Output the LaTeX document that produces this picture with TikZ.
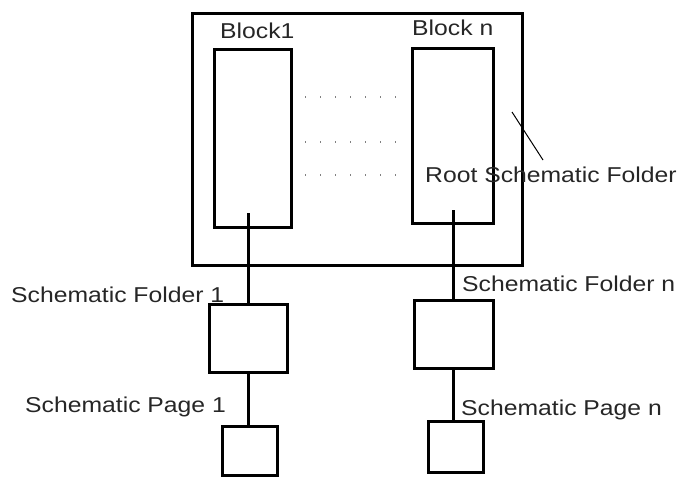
\documentclass[tikz,border=0pt]{standalone}
\usepackage{fontspec}
\setmainfont[FakeStretch=1.15]{Liberation Sans}
\begin{document}
\begin{tikzpicture}[x=1pt,y=-1pt,
  box/.style={draw,line width=3pt,inner sep=0pt,outer sep=0pt},
  link/.style={line width=3pt},
  lbl/.style={anchor=base west,inner sep=0pt,font=\fontsize{21.5}{24}\selectfont,text=black!85},
  dotrow/.style={gray,line width=1.1pt,dash pattern=on 1pt off 14pt}]
\useasboundingbox (0,0) rectangle (681,477);

% root folder and its blocks
\node[box,minimum width=330,minimum height=252] (root) at (357,139) {};
\node[box,minimum width=77,minimum height=178] (b1) at (252.5,138) {};
\node[box,minimum width=81,minimum height=175] (bn) at (452.5,135.5) {};

% folders and pages
\node[box,minimum width=78,minimum height=68] (f1) at (248,338) {};
\node[box,minimum width=55,minimum height=49] (p1) at (249.5,450.5) {};
\node[box,minimum width=79,minimum height=68] (fn) at (453.5,334) {};
\node[box,minimum width=55,minimum height=51] (pn) at (455.5,446.5) {};

% labels
\node[lbl] (l1) at (220,38) {Block1};
\node[lbl] (ln) at (412,35) {Block n};
\node[lbl] (lr) at (425,182) {Root Schematic Folder};
\node[lbl] (lf1) at (11,302) {Schematic Folder 1};
\node[lbl] (lp1) at (25,412) {Schematic Page 1};
\node[lbl] (lfn) at (462,291) {Schematic Folder n};
\node[lbl] (lpn) at (461,415) {Schematic Page n};

% leader to the root folder label
\coordinate (ra) at (512,112);
\coordinate (rb) at (543,160);
\draw[line width=1pt] (ra) -- (rb);

% ellipsis rows between the blocks
\foreach \y in {97,142,175}
  \draw[dotrow] (305,\y) -- (400,\y);

% connectors
\coordinate (b1s) at (248,213);
\coordinate (bns) at (453,210);
\draw[link] (b1s) -- (b1s |- f1.north);
\draw[link] (f1.south -| b1s) -- (b1s |- p1.north);
\draw[link] (bns) -- (bns |- fn.north);
\draw[link] (fn.south -| bns) -- (bns |- pn.north);
\end{tikzpicture}
\end{document}
